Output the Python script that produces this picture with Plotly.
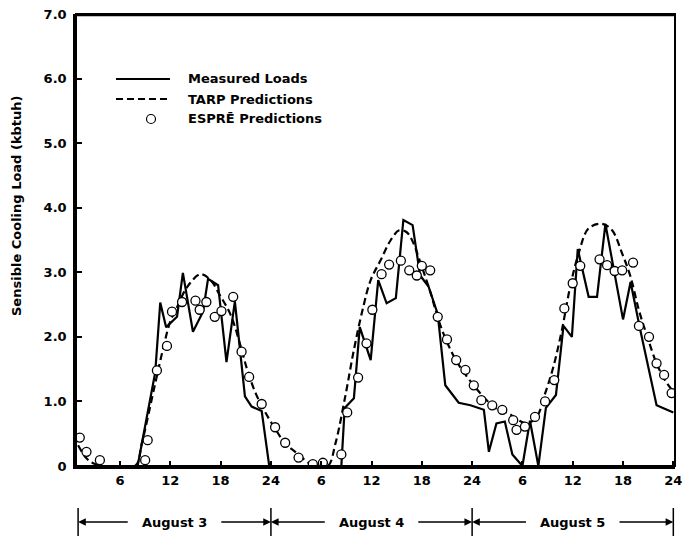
import plotly.graph_objects as go

# ---------------- data (hours from start of August 3, load in kbtuh) ----------------
measured_hours = [1, 8.1, 10.2, 10.8, 11.5, 12.8, 13.5, 14.7, 15.9, 16.5,
                  17.7, 18.7, 19.7, 20.3, 20.9, 21.7, 22.9, 23.8, 32.4, 32.8,
                  33.9, 34.6, 35.9, 36.8, 37.8, 38.9, 39.8, 40.9, 41.8, 42.8,
                  43.9, 44.8, 46.4, 47.8, 49.4, 50.0, 50.9, 51.9, 52.8, 54.0,
                  54.9, 55.9, 56.8, 58.0, 58.9, 59.9, 60.6, 61.9, 62.9, 63.9,
                  66.0, 66.9, 68.0, 70.0, 72.0]
measured_load = [0, 0, 1.45, 2.53, 2.15, 2.31, 2.99, 2.08, 2.39, 2.9,
                 2.8, 1.61, 2.55, 1.8, 1.08, 0.92, 0.85, 0, 0, 0.9,
                 1.05, 2.15, 1.64, 2.88, 2.52, 2.6, 3.81, 3.73, 2.95, 2.78,
                 2.35, 1.25, 0.98, 0.94, 0.87, 0.22, 0.66, 0.69, 0.18, 0.0,
                 0.7, 0.0, 0.9, 1.1, 2.17, 2.0, 3.36, 2.62, 2.62, 3.75,
                 2.27, 2.85, 2.14, 0.94, 0.83]

tarp_hours = [1, 2, 3, 4, 7.8, 8.6, 10.2, 11.2, 12.0, 12.8,
              14.0, 15.6, 16.8, 17.8, 19.2, 20.4, 21.2, 22.2, 23.2, 24.4,
              25.7, 26.9, 28.5, 29.5, 30.8, 31.7, 32.9, 33.9, 34.9, 35.9,
              37.1, 38.3, 39.3, 40.2, 41.0, 41.7, 43.0, 44.0, 45.0, 46.2,
              47.4, 48.2, 49.5, 51.1, 52.3, 53.5, 54.5, 55.7, 56.7, 57.7,
              58.7, 59.7, 60.7, 61.9, 63.5, 64.7, 65.9, 66.9, 67.9, 68.9,
              70.0, 71.0, 72.0]
tarp_load = [0.32, 0.12, 0.03, 0, 0, 0.35, 1.28, 1.85, 2.24, 2.46,
             2.77, 2.97, 2.88, 2.67, 2.34, 1.85, 1.48, 1.12, 0.86, 0.6,
             0.35, 0.22, 0.05, 0, 0, 0.35, 1.1, 1.8, 2.4, 2.88,
             3.19, 3.5, 3.65, 3.62, 3.45, 3.2, 2.7, 2.26, 1.92, 1.61,
             1.38, 1.25, 1.05, 0.87, 0.82, 0.71, 0.66, 0.76, 1.12, 1.54,
             2.1, 2.78, 3.29, 3.68, 3.75, 3.65, 3.29, 2.93, 2.41, 2.0,
             1.59, 1.33, 1.15]

espre_hours = [1.2, 2.0, 3.6, 9.0, 9.3, 10.4, 11.6, 12.2, 13.4, 15.0,
               15.5, 16.3, 17.3, 18.1, 19.5, 20.5, 21.4, 22.9, 24.5, 25.7,
               27.3, 29.0, 30.2, 32.4, 33.1, 34.4, 35.4, 36.1, 37.2, 38.1,
               39.5, 40.5, 41.4, 42.0, 43.0, 43.9, 45.0, 46.1, 47.2, 48.2,
               49.1, 50.4, 51.6, 52.9, 53.3, 54.3, 55.5, 56.7, 57.8, 59.0,
               60.0, 60.9, 63.2, 64.1, 65.0, 65.9, 67.2, 67.9, 69.1, 70.0,
               70.9, 71.8]
espre_load = [0.44, 0.22, 0.09, 0.09, 0.40, 1.48, 1.86, 2.39, 2.54, 2.56,
              2.42, 2.54, 2.31, 2.4, 2.62, 1.77, 1.38, 0.96, 0.6, 0.36,
              0.13, 0.03, 0.05, 0.18, 0.83, 1.37, 1.9, 2.42, 2.97, 3.12,
              3.18, 3.03, 2.95, 3.1, 3.03, 2.31, 1.96, 1.64, 1.49, 1.25,
              1.02, 0.94, 0.87, 0.71, 0.56, 0.61, 0.76, 1.0, 1.33, 2.44,
              2.83, 3.1, 3.2, 3.11, 3.02, 3.03, 3.15, 2.17, 2.0, 1.59,
              1.41, 1.13]

x_tick_vals = [6, 12, 18, 24, 30, 36, 42, 48, 54, 60, 66, 72]
x_tick_text = ["6", "12", "18", "24", "6", "12", "18", "24", "6", "12", "18", "24"]
y_tick_vals = [0, 1, 2, 3, 4, 5, 6, 7]
y_tick_text = ["0", "1.0", "2.0", "3.0", "4.0", "5.0", "6.0", "7.0"]

day_labels = ["August 3", "August 4", "August 5"]
day_edges = [1, 24, 48, 72]

series_names = ["Measured Loads", "TARP Predictions", "ESPRĒ Predictions"]
y_title = "Sensible Cooling Load (kbtuh)"

# ---------------- figure ----------------
FONT = dict(family="DejaVu Sans", size=13, color="black", weight="bold")

fig = go.Figure()
fig.add_trace(go.Scatter(x=measured_hours, y=measured_load, mode="lines",
                         line=dict(color="black", width=2.2), name=series_names[0],
                         showlegend=False))
fig.add_trace(go.Scatter(x=tarp_hours, y=tarp_load, mode="lines",
                         line=dict(color="black", width=2.2, dash="7px,4px"),
                         line_shape="spline", name=series_names[1], showlegend=False))
fig.add_trace(go.Scatter(x=espre_hours, y=espre_load, mode="markers",
                         marker=dict(symbol="circle", size=9, color="white",
                                     line=dict(color="black", width=1.3)),
                         name=series_names[2], showlegend=False))

# The page body has an 8px margin, so the figure is placed at (8, 8).
OFF = 8
W, H = 682, 530
PL, PT, PR, PB = 76, 14, 675, 466          # plot area in window pixels
L, T = PL - OFF, PT - OFF
R = (W + OFF) - PR
B = (H + OFF) - PB
pw, ph = PR - PL, PB - PT

def px_x(p):
    return (p - PL) / pw

def px_y(p):
    return (PB - p) / ph

shapes = []
annotations = []

# plot frame
shapes.append(dict(type="rect", xref="paper", yref="paper", x0=0, x1=1, y0=0, y1=1,
                   line=dict(color="black", width=2), fillcolor="rgba(0,0,0,0)",
                   layer="above"))
shapes.append(dict(type="line", xref="x", yref="y", x0=0.75, x1=72.2, y0=6.98, y1=6.98,
                   line=dict(color="black", width=2), layer="above"))

# manual legend
leg_rows = [79, 99, 119]
line_x0, line_x1, text_x = 116, 170, 186
shapes.append(dict(type="line", xref="paper", yref="paper",
                   x0=px_x(line_x0), x1=px_x(line_x1), y0=px_y(leg_rows[0]), y1=px_y(leg_rows[0]),
                   line=dict(color="black", width=2.2)))
shapes.append(dict(type="line", xref="paper", yref="paper",
                   x0=px_x(line_x0), x1=px_x(line_x1), y0=px_y(leg_rows[1]), y1=px_y(leg_rows[1]),
                   line=dict(color="black", width=2.2, dash="7px,4px")))
shapes.append(dict(type="circle", xref="paper", yref="paper",
                   xsizemode="pixel", ysizemode="pixel",
                   xanchor=px_x(151), yanchor=px_y(leg_rows[2]),
                   x0=-4.5, x1=4.5, y0=-4.5, y1=4.5,
                   line=dict(color="black", width=1.2), fillcolor="white"))
for name, row in zip(series_names, leg_rows):
    annotations.append(dict(text=name, xref="paper", yref="paper",
                            x=px_x(text_x), y=px_y(row), xanchor="left", yanchor="middle",
                            showarrow=False, font=FONT))

# y-axis title
annotations.append(dict(text=y_title, xref="paper", yref="paper",
                        x=px_x(16), y=px_y(206), textangle=-90,
                        xanchor="center", yanchor="middle", showarrow=False,
                        font=dict(family="DejaVu Sans", size=13, color="black", weight="bold")))

# day spans below the axis
row_y = 522
bar_half = 14
for lab, s, e in zip(day_labels, day_edges[:-1], day_edges[1:]):
    c = (s + e) / 2
    annotations.append(dict(text=lab, xref="x", yref="paper", x=c, y=px_y(row_y),
                            xanchor="center", yanchor="middle", showarrow=False, font=FONT))
    half = 5.4
    annotations.append(dict(text="", xref="x", yref="paper", x=s, y=px_y(row_y),
                            axref="x", ayref="pixel", ax=c - half, ay=0,
                            showarrow=True, arrowhead=2, arrowsize=1.1, arrowwidth=1.4,
                            arrowcolor="black", standoff=0))
    annotations.append(dict(text="", xref="x", yref="paper", x=e, y=px_y(row_y),
                            axref="x", ayref="pixel", ax=c + half, ay=0,
                            showarrow=True, arrowhead=2, arrowsize=1.1, arrowwidth=1.4,
                            arrowcolor="black", standoff=0))
for edge in day_edges:
    shapes.append(dict(type="line", xref="x", yref="paper", x0=edge, x1=edge,
                       y0=px_y(row_y - bar_half), y1=px_y(row_y + bar_half),
                       line=dict(color="black", width=1.5)))

fig.update_layout(
    width=W, height=H,
    margin=dict(l=L, r=R, t=T, b=B, pad=0, autoexpand=False),
    paper_bgcolor="white", plot_bgcolor="white",
    font=FONT,
    shapes=shapes, annotations=annotations,
    showlegend=False,
)
fig.update_xaxes(range=[0.75, 72.2], tickvals=x_tick_vals, ticktext=x_tick_text,
                 ticks="inside", ticklen=5, tickwidth=1.5, tickcolor="black",
                 showline=True, linecolor="black", linewidth=2.8, mirror=False,
                 showgrid=False, zeroline=False, tickfont=FONT, automargin=False,
                 ticklabeloverflow="allow")
fig.update_yaxes(range=[0, 7.0], tickvals=y_tick_vals, ticktext=y_tick_text,
                 ticks="inside", ticklen=6, tickwidth=1.5, tickcolor="black",
                 showline=True, linecolor="black", linewidth=2.5, mirror=False,
                 showgrid=False, zeroline=False, tickfont=FONT, ticklabelstandoff=4,
                 automargin=False, ticklabeloverflow="allow")

fig.write_html("out.html", config={"displayModeBar": False})
